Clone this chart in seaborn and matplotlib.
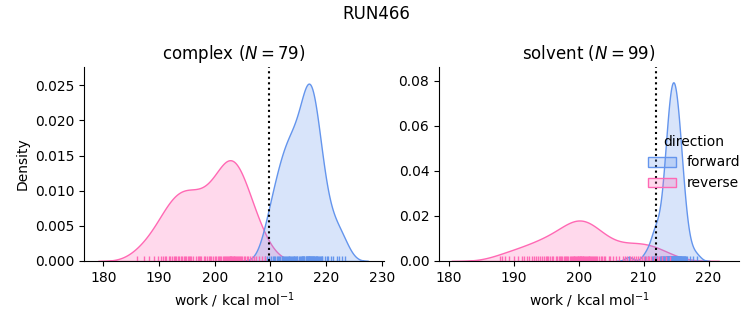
import matplotlib
matplotlib.use("Agg")
import matplotlib.pyplot as plt
import pandas as pd
import seaborn as sns

# ---- data (work values, kcal/mol) ----
complex_forward = [
    209.0, 209.4, 209.7, 210.1, 210.4,
    210.7, 210.9, 211.2, 211.4,
    211.6, 211.8, 212.0, 212.1, 212.3, 212.4,
    212.6, 212.8, 213.0, 213.1, 213.3, 213.4,
    213.6, 213.7, 213.9, 214.0, 214.2, 214.3, 214.4,
    214.6, 214.7, 214.8, 215.1, 215.3, 215.4,
    215.6, 215.7, 215.8, 215.9, 216.0, 216.1, 216.3, 216.4,
    216.5, 216.6, 216.7, 216.8, 216.85, 216.9, 217.0, 217.05, 217.1, 217.2, 217.3, 217.4,
    217.5, 217.6, 217.7, 217.8, 217.9, 218.0, 218.1, 218.2, 218.3, 218.4,
    218.6, 218.7, 218.9, 219.0, 219.2, 219.3,
    219.8, 220.1, 220.4, 220.8, 221.3, 221.9, 222.3, 222.9, 223.4,
]
complex_reverse = [
    186.1, 187.3, 188.2, 189.1, 189.8, 190.4,
    190.7, 191.0, 191.3, 191.7, 192.0, 192.3,
    192.6, 192.9, 193.1, 193.4,
    193.6, 193.9, 194.1, 194.4,
    194.6, 194.9, 195.1, 195.4,
    195.6, 195.8, 196.1,
    196.6, 196.9, 197.1, 197.4,
    197.6, 198.1, 198.3,
    198.6, 198.9, 199.1, 199.4,
    199.7, 200.0, 200.3, 200.6,
    200.8, 201.0, 201.2, 201.4, 201.6,
    201.8, 202.0, 202.2, 202.4, 202.6, 202.7, 202.8,
    202.9, 203.0, 203.1, 203.2, 203.4, 203.5, 203.7,
    203.8, 204.0, 204.2, 204.4, 204.6, 204.7,
    204.9, 205.2, 205.4, 205.7,
    206.0, 206.3, 206.6, 207.0, 207.4, 207.9, 208.4, 209.0,
]
solvent_forward = [
    207.7, 210.2, 210.7, 211.3, 211.5, 211.6, 211.75, 211.9, 212.0,
    212.1, 212.45, 212.6, 212.75,
    212.9, 213.0, 213.05, 213.15, 213.2, 213.3,
    213.38, 213.42, 213.46, 213.5, 213.55, 213.6, 213.65, 213.7, 213.75, 213.8, 213.84,
    213.87, 213.9, 213.94, 213.97, 214.0, 214.04, 214.07, 214.1, 214.13, 214.17,
    214.2, 214.24, 214.27, 214.3, 214.33,
    214.36, 214.39, 214.42, 214.45, 214.48, 214.51, 214.54, 214.57, 214.6, 214.63,
    214.66, 214.69, 214.72, 214.75, 214.78, 214.82,
    214.86, 214.9, 214.93, 214.97, 215.0, 215.04, 215.07, 215.1, 215.13, 215.17,
    215.2, 215.24, 215.27, 215.3, 215.33,
    215.37, 215.42, 215.46, 215.5, 215.55, 215.6, 215.65, 215.7, 215.75, 215.8, 215.84,
    215.9, 216.0, 216.05, 216.15, 216.2, 216.3,
    216.45, 216.6, 216.75, 217.1, 217.6, 218.3,
]
solvent_reverse = [
    187.9, 188.2, 188.6, 189.3, 190.0, 190.6,
    191.2, 191.6, 192.0, 192.4, 192.8,
    193.1, 193.4, 193.7, 194.0, 194.3, 194.6, 194.9,
    195.1, 195.3, 195.55, 195.8, 196.0, 196.5, 196.7, 196.9,
    197.1, 197.25, 197.4, 197.75, 197.9, 198.1, 198.25, 198.4,
    198.6, 198.75, 198.9,
    199.05, 199.2, 199.3, 199.45, 199.6, 199.7, 199.85, 199.9, 200.0, 200.15,
    200.2, 200.3, 200.4, 200.55, 200.6, 200.7, 200.8, 200.95,
    201.05, 201.2, 201.35, 201.5, 201.65, 201.8, 201.95, 202.1, 202.25, 202.4,
    202.55, 202.7, 202.85,
    203.1, 203.35, 203.6, 203.85, 204.1, 204.6, 204.85,
    205.25, 205.75, 206.25, 206.75,
    207.15, 207.5, 207.85, 208.2, 208.5, 208.8,
    209.1, 209.4, 209.7, 210.0, 210.3, 210.6, 210.9,
    211.2, 211.6, 212.0, 212.4, 212.8, 213.4, 214.1,
]
phases = ["complex", "solvent"]
directions = ["forward", "reverse"]
palette = {"forward": "cornflowerblue", "reverse": "hotpink"}
estimates = {"complex": 209.8, "solvent": 211.9}
suptitle = "RUN466"

data = {
    ("complex", "forward"): complex_forward,
    ("complex", "reverse"): complex_reverse,
    ("solvent", "forward"): solvent_forward,
    ("solvent", "reverse"): solvent_reverse,
}
rows = []
for (phase, direction), vals in data.items():
    for v in vals:
        rows.append({"phase": phase, "direction": direction, "work": v})
df = pd.DataFrame(rows)

g = sns.displot(
    data=df, x="work", hue="direction", col="phase", kind="kde",
    fill=True, rug=True, hue_order=directions, col_order=phases,
    palette=palette, facet_kws=dict(sharex=False, sharey=False),
    height=3, aspect=1.1,
)

xlims = {"complex": (176.5, 230.4), "solvent": (178.45, 224.7)}
ylims = {"complex": (0, 0.0276), "solvent": (0, 0.0862)}
for ax, phase in zip(g.axes.flat, phases):
    n = len(data[(phase, "forward")])
    ax.set_title(f"{phase} ($N = {n}$)", fontsize=12)
    ax.axvline(estimates[phase], color="black", linestyle=":", linewidth=1.5)
    ax.set_xlim(*xlims[phase])
    ax.set_ylim(*ylims[phase])
    ax.set_xlabel("work / kcal mol$^{-1}$")
g.axes.flat[0].set_ylabel("Density")
g.axes.flat[1].set_ylabel("")

fig = g.figure
fig.set_size_inches(7.53, 3.25)
fig.subplots_adjust(left=84 / 753, right=739 / 753, bottom=1 - 261 / 325,
                    top=1 - 67 / 325, wspace=55 / 300)
fig.suptitle(suptitle, fontsize=12, y=0.985)
fig.savefig("out.png", dpi=100)
